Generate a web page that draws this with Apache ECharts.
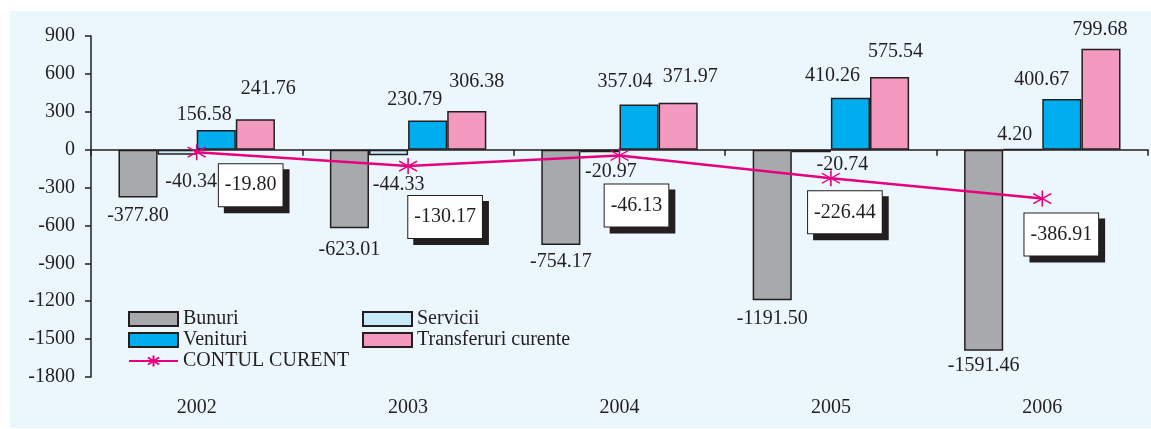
<!DOCTYPE html>
<html>
<head>
<meta charset="utf-8">
<script src="https://cdn.jsdelivr.net/npm/echarts@6/dist/echarts.min.js"></script>
<style>
  html, body { margin: 0; padding: 0; background: #fff; }
  #main { width: 1151px; height: 429px; }
</style>
</head>
<body>
<div id="main"></div>
<script>
// data
var years = ['2002', '2003', '2004', '2005', '2006'];
var bunuri = [-377.80, -623.01, -754.17, -1191.50, -1591.46];
var servicii = [-40.34, -44.33, -20.97, -20.74, 4.20];
var venituri = [156.58, 230.79, 357.04, 410.26, 400.67];
var transferuri = [241.76, 306.38, 371.97, 575.54, 799.68];
var contulCurent = [-19.80, -130.17, -46.13, -226.44, -386.91];

// y axis ticks
var yMin = -1800, yMax = 900, yStep = 300;

// label nudges (px), to place the labels like the original
var bunOffsets = [[0, 3], [0, 6], [0, 2], [0, 4], [0, 0]];
var servOffsets = [[14, 12], [10, 14], [11, 4], [31, -3], [-8, 1]];
var venOffsets = [[-12, 0], [-13, -6], [-14, -8], [-18, -7], [-20, -4]];
var transOffsets = [[13, -15], [10, -14], [12, -11], [6, -10], [-1, -4]];
var ccOffsets = [[54, 33], [37, 51], [17, 50], [14, 34], [19, 36]];

var FONT = 'Liberation Serif';
var INK = '#231F20';
var FS = 20;

function fmt(v) { return v.toFixed(2); }

function withOffsets(values, offsets) {
  return values.map(function (v, i) {
    return { value: v, label: { offset: offsets[i] } };
  });
}

var chart = echarts.init(document.getElementById('main'));

function bar(name, color, values, pos, offsets) {
  var data = values.map(function (v, i) {
    var item = { value: v, label: {} };
    if (offsets) item.label.offset = offsets[i];
    // the small Servicii values sit on either side of zero
    item.label.position = pos || (v >= 0 ? 'top' : 'bottom');
    return item;
  });
  return {
    type: 'bar',
    name: name,
    xAxisIndex: 0,
    barCategoryGap: '26%',
    barGap: '0%',
    itemStyle: { color: color, borderColor: INK, borderWidth: 1.5 },
    label: {
      show: true,
      fontFamily: FONT,
      fontSize: FS,
      color: INK,
      distance: 5,
      formatter: function (p) { return fmt(p.value); }
    },
    data: data
  };
}

var star = 'path://M0,-8L0,8M-9,-5L9,5M-9,5L9,-5';

var legendText = { fontFamily: FONT, fontSize: FS, color: INK, lineHeight: 19 };

chart.setOption({
  animation: false,
  backgroundColor: '#ffffff',
  graphic: [{
    type: 'rect',
    shape: { x: 10, y: 11, width: 1141, height: 417 },
    style: { fill: '#EBF6FD' },
    z: -10
  }],
  grid: { left: 91, right: 3, top: 36, bottom: 52, outerBoundsMode: 'none', containLabel: false },
  legend: [{
    data: [{ name: 'Bunuri', icon: 'rect' }, { name: 'Venituri', icon: 'rect' }, 'CONTUL CURENT'],
    orient: 'vertical',
    left: 123,
    top: 304,
    itemWidth: 49,
    itemHeight: 14,
    itemGap: 1,
    textStyle: legendText
  }, {
    data: [{ name: 'Servicii', icon: 'rect' }, { name: 'Transferuri curente', icon: 'rect' }],
    orient: 'vertical',
    left: 357,
    top: 304,
    itemWidth: 49,
    itemHeight: 14,
    itemGap: 1,
    textStyle: legendText
  }],
  xAxis: [{
    // year labels along the bottom
    type: 'category',
    data: years,
    position: 'bottom',
    axisLine: { show: false, onZero: false },
    axisTick: { show: false },
    axisLabel: { fontFamily: FONT, fontSize: FS, color: INK, margin: 21 }
  }, {
    // zero line with the category ticks
    type: 'category',
    data: years,
    position: 'bottom',
    axisLine: { onZero: true, lineStyle: { color: INK, width: 1.5 } },
    axisTick: { show: true, length: 6, lineStyle: { color: INK, width: 1.5 } },
    axisLabel: { show: false }
  }],
  yAxis: {
    type: 'value',
    min: yMin,
    max: yMax,
    interval: yStep,
    splitLine: { show: false },
    axisLine: { show: true, lineStyle: { color: INK, width: 1.5 } },
    axisTick: { show: true, length: 6, lineStyle: { color: INK, width: 1.5 } },
    axisLabel: {
      fontFamily: FONT, fontSize: FS, color: INK, margin: 16,
      formatter: function (v) { return String(v); }
    }
  },
  series: [
    bar('Bunuri', '#A7A9AC', bunuri, 'bottom', bunOffsets),
    bar('Servicii', '#C7E9F8', servicii, null, servOffsets),
    bar('Venituri', '#00AEEF', venituri, 'top', venOffsets),
    bar('Transferuri curente', '#F49AC1', transferuri, 'top', transOffsets),
    {
      name: 'CONTUL CURENT',
      type: 'line',
      xAxisIndex: 0,
      data: withOffsets(contulCurent, ccOffsets),
      symbol: star,
      symbolSize: [18, 16],
      showAllSymbol: true,
      z: 5,
      lineStyle: { color: '#E6007E', width: 2.5 },
      itemStyle: { color: '#E6007E', borderColor: '#E6007E', borderWidth: 1.5 },
      label: {
        show: true,
        position: 'inside',
        fontFamily: FONT,
        fontSize: FS,
        color: INK,
        backgroundColor: '#ffffff',
        borderColor: INK,
        borderWidth: 1,
        padding: [11, 6],
        shadowColor: INK,
        shadowBlur: 0,
        shadowOffsetX: 6,
        shadowOffsetY: 6,
        formatter: function (p) { return fmt(p.value); }
      }
    }
  ]
});
</script>
</body>
</html>
